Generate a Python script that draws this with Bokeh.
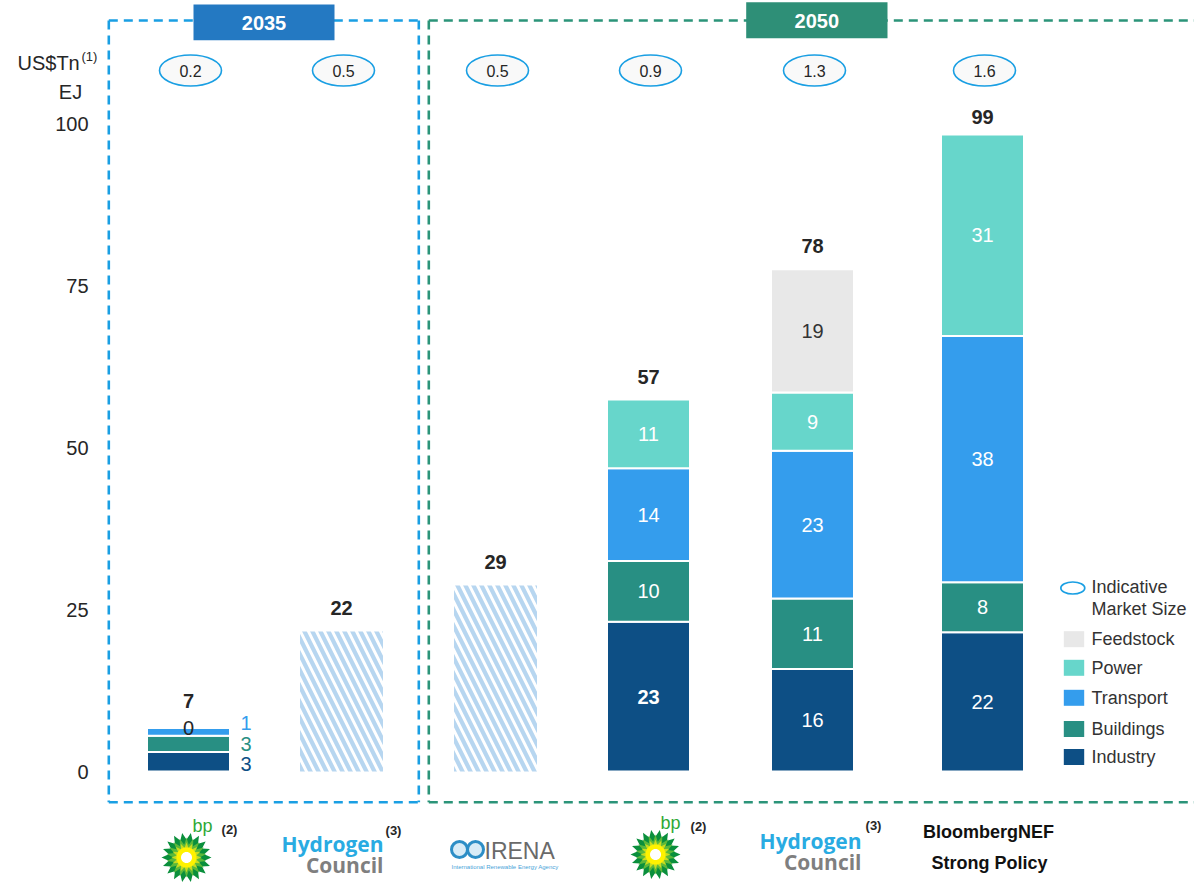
import math
from bokeh.plotting import figure
from bokeh.models import Range1d
from bokeh.core.properties import value
from bokeh.embed import file_html
from bokeh.resources import INLINE

# ---------------- data ----------------
sources = ["bp", "Hydrogen Council", "IRENA", "bp", "Hydrogen Council", "BloombergNEF Strong Policy"]
years = ["2035", "2035", "2050", "2050", "2050", "2050"]
industry = [3.0, 0, 0, 23.1, 15.8, 21.5]
buildings = [2.5, 0, 0, 9.4, 10.9, 7.7]
transport = [1.2, 0, 0, 14.3, 22.8, 38.0]
power = [0.0, 0, 0, 10.6, 9.0, 31.1]
feedstock = [0, 0, 0, 0, 19.0, 0]
unsplit = [0, 21.6, 28.7, 0, 0, 0]
industry_lbl = ["3", "", "", "23", "16", "22"]
buildings_lbl = ["3", "", "", "10", "11", "8"]
transport_lbl = ["1", "", "", "14", "23", "38"]
power_lbl = ["0", "", "", "11", "9", "31"]
feedstock_lbl = ["", "", "", "", "19", ""]
total_lbl = ["7", "22", "29", "57", "78", "99"]
market_size = ["0.2", "0.5", "0.5", "0.9", "1.3", "1.6"]
y_ticks = [0, 25, 50, 75, 100]
legend_items = ["Feedstock", "Power", "Transport", "Buildings", "Industry"]

# ---------------- layout / style ----------------
W, H = 1194, 883
Y0, PPU = 771.0, 6.48


def Y(py):
    return (Y0 - py) / PPU


XC = [188, 341, 495, 648, 812, 982]
BAR_W = 83
TOTAL_OFF = [27, 24, 24, 23, 23, 18]
SIDE = [True, False, False, False, False, False]

C_IND, C_BLD, C_TRN, C_PWR, C_FEED = "#0d4f85", "#288f83", "#349ded", "#67d6cb", "#e8e8e8"
C_BLUE_BOX, C_GREEN_BOX = "#1a9fe3", "#2b9479"
TXT = "#262626"
F = value("Liberation Sans")

p = figure(width=W, height=H, x_range=Range1d(0, W), y_range=Range1d(Y(H), Y(0)),
           output_backend="svg", toolbar_location=None, min_border=0,
           x_axis_location=None, y_axis_location=None)
p.grid.visible = False
p.outline_line_color = None
p.background_fill_color = "white"
p.border_fill_color = "white"


def txt(x, ypx, s, size, color=TXT, align="left", baseline="middle", bold=False, font=F):
    p.text(x=[x], y=[Y(ypx)], text=[s], text_font=font, text_font_size=f"{size}px",
           text_color=color, text_align=align, text_baseline=baseline,
           text_font_style="bold" if bold else "normal")


# ---------------- dashed period boxes ----------------
box_dash = "9 6"
p.multi_line(xs=[[108.3, 108.3], [108.3, 418.3], [418.3, 418.3], [108.3, 418.3]],
             ys=[[Y(20), Y(801.7)], [Y(20), Y(20)], [Y(20), Y(801.7)], [Y(801.7), Y(801.7)]],
             line_color=C_BLUE_BOX, line_width=2.6, line_dash=box_dash)
p.multi_line(xs=[[428.3, 428.3], [428.3, 1200], [428.3, 1200]],
             ys=[[Y(20), Y(801.7)], [Y(20), Y(20)], [Y(801.7), Y(801.7)]],
             line_color=C_GREEN_BOX, line_width=2.6, line_dash=box_dash)

# headers
p.quad(left=[193], right=[334], top=[Y(4)], bottom=[Y(39.7)], fill_color="#2479c2", line_color=None)
p.quad(left=[745.7], right=[887], top=[Y(1.7)], bottom=[Y(37.7)], fill_color="#2e8f77", line_color=None)
txt(263.5, 22, "2035", 20, color="white", align="center", bold=True)
txt(816.3, 20, "2050", 20, color="white", align="center", bold=True)

# ---------------- axis labels ----------------
p.text(x=[88] * len(y_ticks), y=y_ticks, text=[str(t) for t in y_ticks], text_font=F,
       text_font_size="20px", text_color=TXT, text_align="right", text_baseline="middle")
txt(17, 62, "US$Tn", 20)
txt(81, 56, "(1)", 13)
txt(70, 91, "EJ", 20, align="center")

# ---------------- market size ovals ----------------
p.ellipse(x=[x + 2 for x in XC], y=[Y(70)] * len(XC), width=62, height=31,
          width_units="screen", height_units="screen",
          fill_color="#f9f9f9", line_color=C_BLUE_BOX, line_width=1.6)
p.text(x=[x + 2 for x in XC], y=[Y(70.5)] * len(XC), text=market_size, text_font=F,
       text_font_size="16px", text_color=TXT, text_align="center", text_baseline="middle")

# ---------------- hatched (unsplit) bars ----------------
hi = [i for i, v in enumerate(unsplit) if v > 0]
p.vbar(x=[XC[i] for i in hi], width=BAR_W, bottom=0, top=[unsplit[i] for i in hi],
       fill_color="white", line_color=None, hatch_pattern="\\", hatch_color="#b7d6f0",
       hatch_weight=4.2, hatch_scale=16)

# ---------------- stacked bars ----------------
stack = [("Industry", industry, industry_lbl, C_IND),
         ("Buildings", buildings, buildings_lbl, C_BLD),
         ("Transport", transport, transport_lbl, C_TRN),
         ("Power", power, power_lbl, C_PWR),
         ("Feedstock", feedstock, feedstock_lbl, C_FEED)]
SIDE_OFF = {"Industry": 2, "Buildings": 0, "Transport": -9}
bottom = [0.0] * len(XC)
for name, vals, lbls, col in stack:
    top = [b + v for b, v in zip(bottom, vals)]
    idx = [i for i, v in enumerate(vals) if v > 0]
    if idx:
        p.vbar(x=[XC[i] for i in idx], width=BAR_W, bottom=[bottom[i] for i in idx],
               top=[top[i] for i in idx], fill_color=col, line_color="white", line_width=2)
    for i, s in enumerate(lbls):
        if not s:
            continue
        mid = (bottom[i] + top[i]) / 2
        if SIDE[i] and name in SIDE_OFF:
            p.text(x=[XC[i] + 52], y=[mid], text=[s], text_font=F, text_font_size="20px",
                   text_color=col, text_align="left", text_baseline="middle",
                   y_offset=SIDE_OFF[name])
        else:
            color = "white"
            if name == "Feedstock":
                color = "#333333"
            if vals[i] < 2:
                color = TXT
            bold = (i == 3 and name == "Industry")
            p.text(x=[XC[i]], y=[mid], text=[s], text_font=F, text_font_size="20px",
                   text_color=color, text_align="center", text_baseline="middle",
                   text_font_style="bold" if bold else "normal")
    bottom = top

totals = [b + u for b, u in zip(bottom, unsplit)]
p.text(x=XC, y=totals, text=total_lbl, text_font=F, text_font_size="20px",
       text_font_style="bold", text_color=TXT, text_align="center", text_baseline="middle",
       y_offset=[-o for o in TOTAL_OFF])

# ---------------- legend ----------------
p.ellipse(x=[1072.3], y=[Y(587.5)], width=24, height=12, width_units="screen",
          height_units="screen", fill_color="white", line_color=C_BLUE_BOX, line_width=1.6)
txt(1091, 586, "Indicative", 18, color="#333333")
txt(1091, 608, "Market Size", 18, color="#333333")
leg_cols = {"Feedstock": C_FEED, "Power": C_PWR, "Transport": C_TRN, "Buildings": C_BLD, "Industry": C_IND}
leg_y = [638.7, 667.3, 697.3, 728.5, 756.5]
p.quad(left=[1063.3] * 5, right=[1083.7] * 5, top=[Y(y - 8) for y in leg_y],
       bottom=[Y(y + 8) for y in leg_y], fill_color=[leg_cols[n] for n in legend_items], line_color=None)
p.text(x=[1091] * 5, y=[Y(y) for y in leg_y], text=legend_items, text_font=F,
       text_font_size="18px", text_color="#333333", text_align="left", text_baseline="middle")


# ---------------- source logos ----------------
def star(cx, cy, n, ro, ri, rot=0.0):
    xs, ys = [], []
    for k in range(2 * n):
        a = math.pi * k / n + rot
        r = ro if k % 2 == 0 else ri
        xs.append(cx + r * math.cos(a))
        ys.append(Y(cy - r * math.sin(a)))
    return xs, ys


def bp_logo(cx, cy, tx, ty, nx, ny):
    for n, ro, ri, rot, col in [(18, 25, 18, 0.0, "#0a8f3c"), (18, 20, 13, math.pi / 18, "#5cb83a"),
                                (16, 15, 10, 0.0, "#c8dc1e"), (30, 10, 10, 0.0, "#fff200"),
                                (30, 5.5, 5.5, 0.0, "#ffffff")]:
        xs, ys = star(cx, cy, n, ro, ri, rot)
        p.patch(xs, ys, fill_color=col, line_color=None)
    txt(tx, ty, "bp", 18, color="#2ea836", align="center")
    txt(nx, ny, "(2)", 13, bold=True, align="center")


def hc_logo(right, y1, y2, nx, ny):
    OS = value("Open Sans")
    txt(right, y1, "Hydrogen", 21, color="#29abe2", align="right", baseline="alphabetic", bold=True, font=OS)
    txt(right, y2, "Council", 21, color="#7f7f7f", align="right", baseline="alphabetic", bold=True, font=OS)
    txt(nx, ny, "(3)", 13, bold=True, align="center")


bp_logo(186, 857, 202, 825, 229, 829)
hc_logo(383, 843, 864, 393, 830)
bp_logo(655, 854, 670, 822, 698, 826)
hc_logo(861, 840, 861, 873, 825)

# IRENA
p.circle(x=[459, 475], y=[Y(849), Y(849)], radius=8, radius_units="screen",
         fill_color="#d8ecf7", line_color="#2d8ec6", line_width=3)
txt(484, 850, "IRENA", 23, color="#6a6a6a")
txt(451, 866, "International Renewable Energy Agency", 6, color="#4aa3d8")

# BloombergNEF
txt(988, 831, "BloombergNEF", 18, color="#111111", align="center", bold=True)
txt(989, 862, "Strong Policy", 18, color="#111111", align="center", bold=True)

open("out.html", "w").write(file_html(p, INLINE))
